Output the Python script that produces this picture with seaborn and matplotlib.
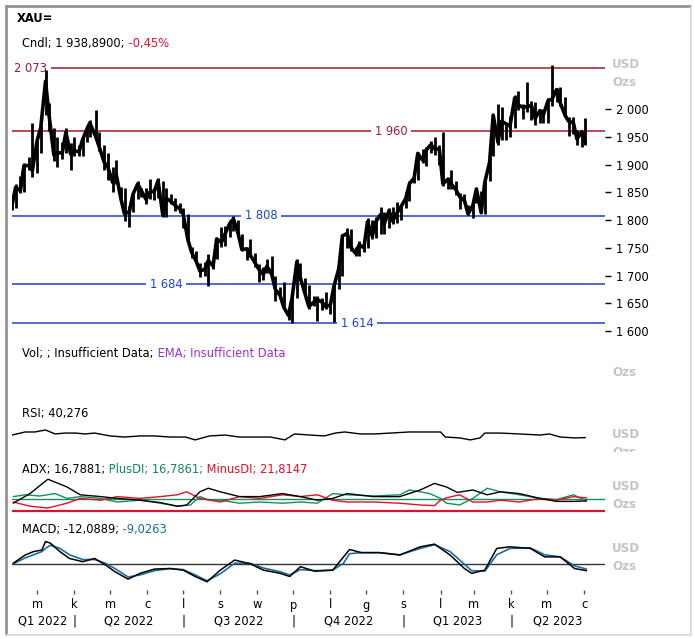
import numpy as np
import pandas as pd
import matplotlib
matplotlib.use("Agg")
import matplotlib.pyplot as plt
import seaborn as sns
from matplotlib.lines import Line2D
from matplotlib.transforms import Bbox, TransformedBbox, blended_transform_factory

# ---------------- data ----------------
START = "2022-02-08"
VIEW_END = "2023-06-18"

price_date = [
    "2022-02-08", "2022-02-11", "2022-02-15", "2022-02-18", "2022-02-22", "2022-02-25",
    "2022-03-01", "2022-03-04", "2022-03-08", "2022-03-11", "2022-03-15", "2022-03-18",
    "2022-03-22", "2022-03-25", "2022-03-29", "2022-04-01", "2022-04-05", "2022-04-08",
    "2022-04-12", "2022-04-14", "2022-04-19", "2022-04-22", "2022-04-26", "2022-04-29",
    "2022-05-03", "2022-05-06", "2022-05-10", "2022-05-13", "2022-05-17", "2022-05-20",
    "2022-05-24", "2022-05-27", "2022-05-31", "2022-06-03", "2022-06-07", "2022-06-10",
    "2022-06-14", "2022-06-17", "2022-06-21", "2022-06-24", "2022-06-28", "2022-07-01",
    "2022-07-05", "2022-07-08", "2022-07-12", "2022-07-15", "2022-07-19", "2022-07-22",
    "2022-07-26", "2022-07-29", "2022-08-02", "2022-08-05", "2022-08-09", "2022-08-12",
    "2022-08-16", "2022-08-19", "2022-08-23", "2022-08-26", "2022-08-30", "2022-09-02",
    "2022-09-06", "2022-09-09", "2022-09-13", "2022-09-16", "2022-09-20", "2022-09-23",
    "2022-09-27", "2022-09-30", "2022-10-04", "2022-10-07", "2022-10-11", "2022-10-14",
    "2022-10-18", "2022-10-21", "2022-10-25", "2022-10-28", "2022-11-01", "2022-11-04",
    "2022-11-08", "2022-11-11", "2022-11-15", "2022-11-18", "2022-11-22", "2022-11-25",
    "2022-11-29", "2022-12-02", "2022-12-06", "2022-12-09", "2022-12-13", "2022-12-16",
    "2022-12-20", "2022-12-23", "2022-12-27", "2022-12-30", "2023-01-03", "2023-01-06",
    "2023-01-10", "2023-01-13", "2023-01-17", "2023-01-20", "2023-01-24", "2023-01-27",
    "2023-01-31", "2023-02-03", "2023-02-07", "2023-02-10", "2023-02-14", "2023-02-17",
    "2023-02-21", "2023-02-24", "2023-02-28", "2023-03-03", "2023-03-07", "2023-03-10",
    "2023-03-14", "2023-03-17", "2023-03-21", "2023-03-24", "2023-03-28", "2023-03-31",
    "2023-04-04", "2023-04-07", "2023-04-11", "2023-04-14", "2023-04-18", "2023-04-21",
    "2023-04-25", "2023-04-28", "2023-05-02", "2023-05-05", "2023-05-09", "2023-05-12",
    "2023-05-16", "2023-05-19", "2023-05-23", "2023-05-26", "2023-05-30", "2023-06-02",
]
price_close = [
    1826, 1859, 1853, 1898, 1898, 1889, 1943, 1966, 2050, 1988, 1917, 1921,
    1921, 1958, 1919, 1925, 1923, 1945, 1966, 1975, 1950, 1931, 1904, 1896,
    1868, 1883, 1838, 1811, 1815, 1846, 1865, 1853, 1837, 1850, 1852, 1871,
    1809, 1839, 1833, 1827, 1820, 1811, 1764, 1742, 1725, 1708, 1711, 1727,
    1717, 1766, 1760, 1775, 1794, 1802, 1775, 1747, 1748, 1737, 1723, 1712,
    1702, 1717, 1702, 1675, 1664, 1643, 1628, 1660, 1725, 1695, 1666, 1644,
    1652, 1657, 1652, 1644, 1647, 1681, 1712, 1771, 1776, 1751, 1740, 1755,
    1750, 1797, 1771, 1797, 1810, 1793, 1817, 1798, 1814, 1824, 1839, 1865,
    1876, 1920, 1908, 1926, 1936, 1928, 1928, 1865, 1873, 1865, 1854, 1842,
    1835, 1811, 1826, 1856, 1813, 1868, 1904, 1989, 1940, 1978, 1973, 1969,
    2020, 2007, 2003, 2004, 2006, 1983, 1997, 1990, 2016, 2017, 2035, 2011,
    1989, 1978, 1975, 1946, 1959, 1939,
]
price_high = [
    1830, 1865, 1880, 1902, 1914, 1974, 1950, 1970, 2070, 2010, 1965, 1950,
    1940, 1966, 1938, 1949, 1936, 1948, 1970, 1980, 1998, 1958, 1935, 1920,
    1895, 1909, 1860, 1858, 1826, 1849, 1870, 1858, 1858, 1874, 1858, 1875,
    1870, 1857, 1846, 1840, 1830, 1822, 1810, 1752, 1745, 1722, 1724, 1739,
    1727, 1767, 1788, 1790, 1800, 1808, 1800, 1775, 1752, 1765, 1740, 1720,
    1715, 1729, 1735, 1700, 1680, 1688, 1642, 1672, 1729, 1722, 1695, 1682,
    1663, 1663, 1660, 1670, 1653, 1683, 1716, 1775, 1786, 1783, 1752, 1763,
    1763, 1804, 1800, 1805, 1824, 1815, 1822, 1823, 1833, 1828, 1850, 1870,
    1882, 1922, 1928, 1931, 1942, 1949, 1935, 1959, 1878, 1890, 1871, 1849,
    1846, 1827, 1830, 1858, 1852, 1870, 1914, 1989, 2009, 2003, 1975, 1987,
    2025, 2032, 2009, 2048, 2015, 2012, 2000, 2000, 2019, 2079, 2038, 2040,
    2022, 1985, 1985, 1963, 1960, 1983,
]
price_low = [
    1818, 1822, 1848, 1850, 1890, 1878, 1885, 1920, 1990, 1960, 1906, 1895,
    1910, 1920, 1890, 1915, 1915, 1915, 1940, 1950, 1945, 1925, 1890, 1872,
    1850, 1865, 1832, 1798, 1787, 1815, 1838, 1842, 1828, 1838, 1836, 1840,
    1805, 1805, 1828, 1816, 1812, 1785, 1763, 1732, 1722, 1697, 1700, 1681,
    1712, 1730, 1752, 1754, 1770, 1780, 1770, 1745, 1728, 1734, 1715, 1688,
    1692, 1705, 1697, 1654, 1660, 1640, 1620, 1614, 1660, 1690, 1663, 1640,
    1645, 1618, 1638, 1640, 1630, 1616, 1675, 1700, 1750, 1745, 1735, 1735,
    1742, 1750, 1766, 1768, 1775, 1775, 1785, 1792, 1795, 1800, 1822, 1835,
    1866, 1872, 1903, 1897, 1920, 1918, 1900, 1862, 1856, 1856, 1845, 1819,
    1832, 1809, 1804, 1830, 1812, 1810, 1870, 1915, 1935, 1945, 1944, 1950,
    1965, 1998, 1982, 1995, 1980, 1972, 1974, 1975, 1975, 2005, 2013, 2005,
    1985, 1951, 1955, 1936, 1932, 1935,
]

LEVELS = [2073, 1960, 1808, 1684, 1614]
LEVEL_LABELS = ["2 073", "1 960", "1 808", "1 684", "1 614"]
PRICE_TICKS = [1600, 1650, 1700, 1750, 1800, 1850, 1900, 1950, 2000]

# RSI (day offsets from START)
rsi_day = [0, 11, 19, 28, 36, 44, 53, 61, 69, 82, 94, 107, 119, 132, 145, 153, 165, 178,
           190, 203, 216, 228, 236, 249, 261, 270, 278, 291, 303, 316, 332, 349, 358, 362,
           374, 383, 391, 395, 408, 424, 441, 449, 458, 470, 479]
rsi_val = [52, 66, 66, 75, 57, 61, 61, 57, 61, 48, 43, 48, 48, 43, 43, 30, 48, 52,
           43, 43, 43, 30, 57, 52, 48, 61, 66, 57, 57, 61, 66, 66, 66, 43,
           39, 30, 39, 61, 61, 57, 52, 57, 43, 39, 40.3]

# ADX / DI
adx_day = [1, 15, 30, 46, 57, 74, 88, 107, 124, 138, 146, 157, 164, 174, 190, 207, 226, 241,
           255, 268, 280, 302, 324, 341, 353, 363, 372, 385, 397, 408, 424, 441, 455, 469, 480]
adx_val = [13, 29, 53, 40, 27, 24, 21, 18, 14, 8, 10, 32, 38, 32, 24, 24, 29, 24,
           18, 21, 29, 24, 24, 35, 46, 40, 31, 35, 27, 32, 29, 21, 16, 16, 16.8]
pdi_day = [1, 11, 23, 36, 46, 57, 74, 88, 107, 124, 138, 149, 157, 165, 174, 190, 207, 226,
           241, 255, 268, 280, 302, 324, 332, 341, 349, 358, 363, 374, 385, 397, 408, 424,
           441, 455, 469, 480]
pdi_val = [24, 27, 25, 29, 21, 24, 21, 15, 18, 13, 8, 10, 24, 18, 18, 13, 15, 13,
           15, 13, 29, 27, 25, 27, 35, 32, 29, 21, 13, 10, 21, 38, 32, 27,
           21, 19, 27, 16.8]
mdi_day = [1, 15, 30, 46, 57, 74, 88, 107, 124, 138, 146, 157, 174, 190, 207, 226, 241, 255,
           268, 280, 302, 324, 341, 353, 358, 363, 374, 385, 397, 408, 424, 441, 455, 469, 480]
mdi_val = [15, 8, 5, 13, 21, 18, 24, 21, 24, 27, 32, 21, 15, 24, 21, 27, 24, 27,
           18, 15, 15, 13, 10, 9, 18, 22, 27, 15, 15, 18, 15, 21, 18, 24, 21.8]
ADX_LEVELS = [20, 0]

# MACD
macd_day = [1, 11, 18, 25, 28, 32, 40, 48, 59, 69, 78, 86, 97, 107, 119, 132, 143, 153, 163,
            174, 186, 199, 210, 224, 232, 241, 253, 268, 277, 282, 292, 307, 324, 341, 353,
            366, 378, 384, 395, 405, 416, 433, 445, 458, 470, 480]
macd_val = [2, 17.5, 24, 27, 43, 40, 24, 11, 5, 11, -1, -14, -28, -17, -9, -8, -11, -23, -33,
            -11, 8, 1, -11, -17, -23, -4.5, -13, -11, 14, 28, 22, 22, 17.5, 33, 38,
            17.5, -8, -17, -11, 30, 33, 30, 14, 14, -8, -12.09]
signal_val = [1, 12, 18, 24, 30, 36, 30, 18, 9, 9, 2, -8, -24, -20, -12, -8, -10, -20, -31,
              -18, 2, 2, -7, -14, -20, -10, -12, -11, 2, 20, 22, 22, 18, 30, 37,
              24, 0, -12, -13, 18, 30, 31, 18, 14, -3, -9.03]

MONTH_START = ["2022-03-01", "2022-04-01", "2022-05-01", "2022-06-01", "2022-07-01",
               "2022-08-01", "2022-09-01", "2022-10-01", "2022-11-01", "2022-12-01",
               "2023-01-01", "2023-02-01", "2023-03-01", "2023-04-01", "2023-05-01",
               "2023-06-01"]
MONTH_LETTERS = ["m", "k", "m", "c", "l", "s", "w", "p", "l", "g", "s", "l", "m", "k", "m", "c"]
QUARTER_START = ["2022-01-01", "2022-04-01", "2022-07-01", "2022-10-01", "2023-01-01",
                 "2023-04-01", "2023-07-01"]
QUARTER_LABELS = ["Q1 2022", "Q2 2022", "Q3 2022", "Q4 2022", "Q1 2023", "Q2 2023"]

# ---------------- figure ----------------
W, H = 695, 639
sns.set_theme(style="white")
plt.rcParams["font.family"] = ["DejaVu Sans"]
FS = 8.3

fig = plt.figure(figsize=(W / 100, H / 100), dpi=100)
fig.patch.set_facecolor("white")


def axpx(x0, y0, x1, y1):
    ax = fig.add_axes([x0 / W, 1 - y1 / H, (x1 - x0) / W, (y1 - y0) / H])
    ax.set_facecolor("none")
    for s in ax.spines.values():
        s.set_visible(False)
    ax.tick_params(left=False, right=False, bottom=False, top=False,
                   labelleft=False, labelright=False, labelbottom=False, labeltop=False)
    return ax


t0 = pd.Timestamp(START)
x0d, x1d = t0, pd.Timestamp(VIEW_END) + pd.Timedelta(hours=10)


def days(lst):
    return t0 + pd.to_timedelta(lst, unit="D")


# price panel
ax_p = axpx(12, 60, 605, 340)
ax_p.set_xlim(x0d, x1d)
ax_p.set_ylim(1583.8, 2088.3)
pdates = pd.to_datetime(price_date)
level_colors = ["#a3182f", "#a3182f", "#1a44cc", "#1a44cc", "#1a44cc"]
label_xpx = [31, 391, 261, 166, 357]
for lv, lab, c, lx in zip(LEVELS, LEVEL_LABELS, level_colors, label_xpx):
    ax_p.axhline(lv, color=c, lw=1.1, zorder=1)
    ax_p.text((lx - 12) / 593, lv, lab, transform=blended_transform_factory(ax_p.transAxes, ax_p.transData),
              ha="center", va="center", color=c, fontsize=FS, zorder=2,
              bbox=dict(fc="white", ec="none", pad=2.5))
ax_p.vlines(pdates, price_low, price_high, color="black", lw=2.0, zorder=3)
sns.lineplot(x=pdates, y=price_close, ax=ax_p, color="black", lw=2.6, zorder=4)
ax_p.set_yticks(PRICE_TICKS)
ax_p.set_yticklabels([f"{v:,}".replace(",", " ") for v in PRICE_TICKS])
ax_p.tick_params(axis="y", right=True, labelright=True, length=4, width=1, pad=4,
                 labelsize=FS, colors="black", direction="out")

# RSI
ax_r = axpx(12, 422, 605, 447)
ax_r.set_xlim(x0d, x1d)
ax_r.set_ylim(-2.35, 111.4)
sns.lineplot(x=days(rsi_day), y=rsi_val, ax=ax_r, color="black", lw=1.0)

# ADX
ax_a = axpx(12, 475, 605, 513)
ax_a.set_xlim(x0d, x1d)
ax_a.set_ylim(-3.33, 60)
ax_a.axhline(ADX_LEVELS[0], color="#12905e", lw=1.0, zorder=1)
ax_a.axhline(ADX_LEVELS[1], color="#d9152e", lw=1.6, zorder=1)
sns.lineplot(x=days(pdi_day), y=pdi_val, ax=ax_a, color="#12905e", lw=1.0)
sns.lineplot(x=days(mdi_day), y=mdi_val, ax=ax_a, color="#e0102e", lw=1.0)
sns.lineplot(x=days(adx_day), y=adx_val, ax=ax_a, color="black", lw=1.0)

# MACD
ax_m = axpx(12, 535, 605, 590)
ax_m.set_xlim(x0d, x1d)
ax_m.set_ylim(-48.5, 55.3)
ax_m.axhline(0, color="#333333", lw=1.0, zorder=1)
sns.lineplot(x=days(macd_day), y=signal_val, ax=ax_m, color="#1b6e9c", lw=1.2)
sns.lineplot(x=days(macd_day), y=macd_val, ax=ax_m, color="black", lw=1.1)
for a in (ax_p, ax_r, ax_a, ax_m):
    a.set_xlabel("")
    a.set_ylabel("")
    if a.get_legend():
        a.get_legend().remove()

# x axis (month ticks)
mdates = pd.to_datetime(MONTH_START)
ax_m.set_xticks(mdates)
ax_m.tick_params(axis="x", bottom=True, length=3, width=1, color="#555555", labelbottom=False)
bt = blended_transform_factory(ax_m.transData, fig.transFigure)
for d, l in zip(mdates, MONTH_LETTERS):
    ax_m.text(d, 1 - 605 / H, l, transform=bt, ha="center", va="center", fontsize=FS,
              color="black", clip_on=False)
qs = pd.to_datetime(QUARTER_START)
for i, lab in enumerate(QUARTER_LABELS):
    a0 = max(qs[i], x0d)
    a1 = min(qs[i + 1], x1d)
    ax_m.text(a0 + (a1 - a0) / 2, 1 - 621 / H, lab, transform=bt, ha="center", va="center",
              fontsize=FS, color="black", clip_on=False)
    if i > 0:
        ax_m.text(qs[i], 1 - 621 / H, "|", transform=bt, ha="center", va="center",
                  fontsize=FS, color="black", clip_on=False)

# texts
renderer = fig.canvas.get_renderer()


def rich(x, y, parts, size=FS, weight="normal"):
    cx = x
    for s, c in parts:
        t = fig.text(cx / W, 1 - y / H, s, color=c, fontsize=size, ha="left", va="center",
                     fontweight=weight)
        cx += t.get_window_extent(renderer).width


rich(17, 18, [("XAU=", "black")], weight="bold")
rich(22, 44, [("Cndl; 1 938,8900;", "black"), (" -0,45%", "#e0102e")])
rich(22, 353, [("Vol; ; Insufficient Data;", "black"), (" EMA; Insufficient Data", "#9a32d2")])
rich(22, 414, [("RSI; 40,276", "black")])
rich(22, 469, [("ADX; 16,7881;", "black"), (" PlusDI; 16,7861;", "#0f8a5a"),
               (" MinusDI; 21,8147", "#e0102e")])
rich(22, 530, [("MACD; -12,0889;", "black"), (" -9,0263", "#1b6e9c")])

GRAY = "#c4c4c4"
for y, s in [(64, "USD"), (83, "Ozs"), (372, "Ozs"), (434, "USD"), (486, "USD"), (505, "Ozs"),
             (548, "USD"), (567, "Ozs")]:
    fig.text(612 / W, 1 - y / H, s, color=GRAY, fontsize=8.6, fontweight="bold",
             ha="left", va="center")
t = fig.text(612 / W, 1 - 453 / H, "Ozs", color=GRAY, fontsize=8.6, fontweight="bold",
             ha="left", va="center")
t.set_clip_box(TransformedBbox(Bbox.from_extents(0, 1 - 452 / H, 1, 1 - 440 / H), fig.transFigure))
t.set_clip_on(True)


# frame
def fline(x0, y0, x1, y1, c, lw):
    fig.add_artist(Line2D([x0 / W, x1 / W], [1 - y0 / H, 1 - y1 / H], color=c, lw=lw,
                          transform=fig.transFigure, solid_capstyle="butt"))


fline(5, 6, 691, 6, "#8e8e8e", 1.9)
fline(6, 5, 6, 635, "#8e8e8e", 1.9)
fline(690.5, 6, 690.5, 635, "#d2d2d2", 1.1)
fline(5, 634.5, 691, 634.5, "#d2d2d2", 1.1)

fig.savefig("out.png", dpi=100)
